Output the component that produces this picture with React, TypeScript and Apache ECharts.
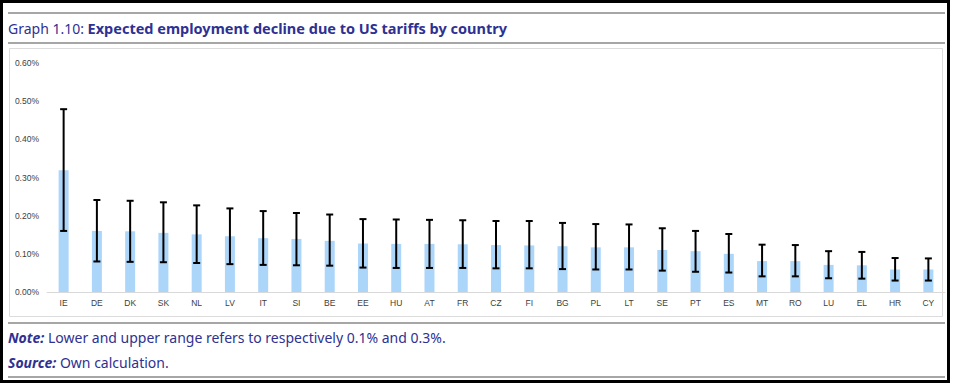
import React, { useEffect, useRef } from "react";
import * as echarts from "echarts";

const countries = ["IE","DE","DK","SK","NL","LV","IT","SI","BE","EE","HU","AT","FR","CZ","FI","BG","PL","LT","SE","PT","ES","MT","RO","LU","EL","HR","CY"];
const central = [0.319,0.160,0.159,0.155,0.151,0.146,0.141,0.139,0.134,0.127,0.126,0.126,0.125,0.123,0.122,0.120,0.117,0.117,0.110,0.107,0.100,0.081,0.081,0.071,0.070,0.059,0.059];
const lower = [0.160,0.080,0.079,0.078,0.076,0.073,0.071,0.070,0.069,0.064,0.063,0.063,0.063,0.062,0.062,0.060,0.059,0.059,0.056,0.053,0.051,0.041,0.041,0.036,0.035,0.030,0.030];
const upper = [0.479,0.241,0.239,0.235,0.227,0.219,0.212,0.207,0.203,0.191,0.190,0.189,0.188,0.186,0.186,0.181,0.178,0.177,0.167,0.160,0.152,0.124,0.123,0.107,0.105,0.089,0.088];
const yTicks = [0, 0.1, 0.2, 0.3, 0.4, 0.5, 0.6];

const titleLead = "Graph 1.10: ";
const titleMain = "Expected employment decline due to US tariffs by country";
const noteLabel = "Note:";
const noteText = " Lower and upper range refers to respectively 0.1% and 0.3%.";
const sourceLabel = "Source:";
const sourceText = " Own calculation.";

const BLUE = "#2e3192";
const FONT = "'Noto Sans', 'Open Sans', sans-serif";
const AXFONT = "'Liberation Sans Narrow', 'Liberation Sans', Arial, sans-serif";

export default function App() {
  const ref = useRef<HTMLDivElement>(null);
  useEffect(() => {
    if (!ref.current) return;
    const chart = echarts.init(ref.current, undefined, { renderer: "svg" });
    const errData = countries.map((_, i) => [i, lower[i], upper[i]]);
    const hLine = (y: number) => ({
      type: "line",
      shape: { x1: 8, y1: y, x2: 945, y2: y },
      style: { stroke: "#a6a6a6", lineWidth: 2 },
      silent: true,
    });
    chart.setOption({
      animation: false,
      backgroundColor: "#ffffff",
      grid: { left: 47, right: 8, top: 63, bottom: 94, containLabel: false },
      xAxis: {
        type: "category",
        data: countries,
        axisLine: { show: true, lineStyle: { color: "#d9d9d9", width: 1 } },
        axisTick: { show: false },
        axisLabel: { color: "#404040", fontSize: 8.5, margin: 6, fontFamily: AXFONT, interval: 0 },
      },
      yAxis: {
        type: "value",
        min: yTicks[0],
        max: yTicks[yTicks.length - 1],
        interval: 0.1,
        axisLine: { show: false },
        axisTick: { show: false },
        splitLine: { show: false },
        axisLabel: {
          color: "#404040",
          fontSize: 8.5,
          margin: 8,
          fontFamily: AXFONT,
          formatter: (v: number) => v.toFixed(2) + "%",
        },
      },
      series: [
        {
          type: "bar",
          data: central,
          barWidth: 10,
          itemStyle: { color: "#acd5fa" },
          z: 2,
        },
        {
          type: "custom",
          data: errData,
          z: 5,
          renderItem: (params: any, api: any) => {
            const x = api.value(0);
            const lo = api.coord([x, api.value(1)]);
            const hi = api.coord([x, api.value(2)]);
            const hw = 3.5;
            const st = { stroke: "#000000", lineWidth: 2 };
            return {
              type: "group",
              children: [
                { type: "line", shape: { x1: lo[0], y1: lo[1], x2: hi[0], y2: hi[1] }, style: st },
                { type: "line", shape: { x1: lo[0] - hw, y1: lo[1], x2: lo[0] + hw, y2: lo[1] }, style: st },
                { type: "line", shape: { x1: hi[0] - hw, y1: hi[1], x2: hi[0] + hw, y2: hi[1] }, style: st },
              ],
            };
          },
        },
      ],
      graphic: [
        {
          type: "rect",
          shape: { x: 9.5, y: 48.5, width: 933, height: 268 },
          style: { fill: "none", stroke: "#dcdcdc", lineWidth: 1 },
          silent: true,
          z: -1,
        },
        {
          type: "rect",
          shape: { x: 1.5, y: 1.5, width: 947, height: 380 },
          style: { fill: "none", stroke: "#000000", lineWidth: 3 },
          silent: true,
        },
        hLine(13),
        hLine(43),
        hLine(323),
        hLine(377),
        {
          type: "text",
          x: 8,
          y: 28,
          style: {
            text: "{a|" + titleLead + "}{b|" + titleMain + "}",
            verticalAlign: "middle",
            rich: {
              a: { fontSize: 14, fontFamily: FONT, fill: BLUE, fontWeight: "normal" },
              b: { fontSize: 14.5, fontFamily: FONT, fill: BLUE, fontWeight: "bold" },
            },
          },
        },
        {
          type: "text",
          x: 8,
          y: 337,
          style: {
            text: "{a|" + noteLabel + "}{b|" + noteText + "}",
            verticalAlign: "middle",
            rich: {
              a: { fontSize: 14, fontFamily: FONT, fill: BLUE, fontWeight: "bold", fontStyle: "italic" },
              b: { fontSize: 14, fontFamily: FONT, fill: BLUE },
            },
          },
        },
        {
          type: "text",
          x: 8,
          y: 362,
          style: {
            text: "{a|" + sourceLabel + "}{b|" + sourceText + "}",
            verticalAlign: "middle",
            rich: {
              a: { fontSize: 14, fontFamily: FONT, fill: BLUE, fontWeight: "bold", fontStyle: "italic" },
              b: { fontSize: 14, fontFamily: FONT, fill: BLUE },
            },
          },
        },
      ],
    });
    return () => chart.dispose();
  }, []);
  return (
    <div
      ref={ref}
      style={{ position: "fixed", left: 0, top: 0, width: 953, height: 386, background: "#fff" }}
    />
  );
}
